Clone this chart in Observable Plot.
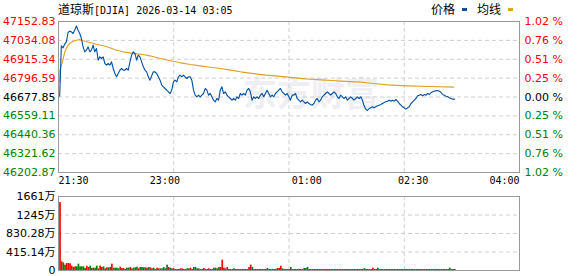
<!DOCTYPE html>
<html><head><meta charset="utf-8">
<script src="https://cdn.jsdelivr.net/npm/d3@7"></script>
<script src="https://cdn.jsdelivr.net/npm/@observablehq/plot@0.6"></script>
<style>
body{margin:0;background:#fff;}
#wrap{position:relative;width:578px;height:276px;overflow:hidden;}
#wrap svg{display:block;}
.lbl{position:absolute;top:2px;font-family:"Noto Sans CJK SC";font-size:12px;line-height:14px;color:#000;white-space:nowrap;}
.mono{font-family:"DejaVu Sans Mono";font-size:10px;}
.dash{position:absolute;top:8px;width:5px;height:3px;}
</style></head>
<body><div id="wrap"></div>
<script>
// ---------- data ----------
const titleName = "道琼斯";
const titleCode = "[DJIA] 2026-03-14 03:05";
const legendNames = ["价格", "均线"];
const prevClose = 46677.85;
const priceTicks = [47152.83, 47034.08, 46915.34, 46796.59, 46677.85, 46559.11, 46440.36, 46321.62, 46202.87];
const pctLabels = ["1.02 %", "0.76 %", "0.51 %", "0.25 %", "0.00 %", "0.25 %", "0.51 %", "0.76 %", "1.02 %"];
const timeTickMinutes = [0, 90, 210, 300, 390];
const timeTickLabels = ["21:30", "23:00", "01:00", "02:30", "04:00"];
const volTicks = [0, 415.14, 830.28, 1245, 1661];
const volTickLabels = ["0", "415.14万", "830.28万", "1245万", "1661万"];

// price samples, minutes after 21:30
const priceStartMin = 1;
const priceStepMin = 1.415;
const prices = [
46683.1,46999.7,46987.2,47010.2,47024.9,47083.6,47092.0,47087.8,47077.3,47098.3,
47125.6,47098.3,47077.3,47045.9,46993.4,46962.0,46972.5,46993.4,46962.0,46972.5,
47003.9,46962.0,46983.0,46909.6,46930.5,46920.1,46930.5,46888.6,46878.1,46888.6,
46878.1,46899.1,46857.2,46825.7,46804.7,46825.7,46846.7,46857.2,46846.7,46846.7,
46857.2,46846.7,46899.1,46941.0,46962.0,46951.5,46909.6,46941.0,46930.5,46899.1,
46867.6,46846.7,46836.2,46804.7,46783.8,
46811.0,46836.2,46836.2,46825.7,46804.7,46783.8,46752.3,46741.8,46731.3,46720.9,
46710.4,46699.9,46720.9,46773.3,46783.8,46773.3,46804.7,46815.2,46804.7,46815.2,
46804.7,46794.2,46804.7,46804.7,46783.8,46720.9,46689.4,46678.9,46689.4,46678.9,
46689.4,46699.9,46731.3,46720.9,46689.4,46699.9,46678.9,46658.0,46647.5,46668.4,
46658.0,46720.9,46741.8,46699.9,46710.4,46689.4,46678.9,46668.4,46658.0,46668.4,
46658.0,46678.9,46668.4,46699.9,46689.4,46699.9,46689.4,
46720.9,46731.3,46710.4,46658.0,46678.9,46668.4,46678.9,46668.4,46689.4,46699.9,
46678.9,46699.9,46720.9,46699.9,46678.9,46689.4,46678.9,46699.9,46710.4,46720.9,
46731.3,46710.4,46699.9,46689.4,46699.9,46678.9,46658.0,46689.4,46689.4,46699.9,
46668.4,46658.0,46647.5,46658.0,46647.5,46637.0,46647.5,46637.0,46630.7,46626.5,
46637.0,46658.0,46668.4,46647.5,46658.0,46678.9,46689.4,46699.9,46710.4,46699.9,
46689.4,46699.9,46710.4,46699.9,46678.9,46668.4,46689.4,
46678.9,46668.4,46678.9,46658.0,46668.4,46678.9,46668.4,46658.0,46668.4,46678.9,
46668.4,46678.9,46658.0,46622.3,46601.3,46592.9,46605.5,46609.7,46616.0,46609.7,
46616.0,46622.3,46626.5,46630.7,46637.0,46643.3,46647.5,46651.7,46658.0,46651.7,
46658.0,46651.7,46662.1,46651.7,46637.0,46626.5,46616.0,46609.7,46601.3,46609.7,
46616.0,46637.0,46647.5,46658.0,46668.4,46685.2,46689.4,46693.6,46685.2,46693.6,
46689.4,46699.9,46693.6,46706.2,46710.4,46714.6,46716.7,46718.8,46714.6,46706.2,
46693.6,46689.4,46683.1,46678.9,46672.6,46668.4,46664.2,46664.2
];

// average line
const avgMinutes = [1.1,1.2,2.5,4.0,5.3,6.8,8.2,9.6,12.4,15.2,18.0,20.9,26.5,32.1,37.8,43.4,49.1,54.7,60.3,66.0,71.7,77.2,86.3,94.8,103.2,111.7,120.2,128.6,137.1,145.5,154.0,166.7,175.1,183.6,192.0,200.5,209.0,217.4,225.9,234.3,238.6,255.5,266.7,278.1,295.0,314.7,334.4];
const avgPrices = [46773,46846,46878,46920,46962,46987,47004,47014.4,47029.1,47035.4,47039.6,47031.2,47020.7,47010.2,46999.7,46987.2,46972.5,46962.0,46955.7,46949.4,46945.2,46936.8,46920.1,46905.4,46892.8,46882.3,46873.9,46865.5,46857.2,46846.7,46836.2,46823.6,46815.2,46811.0,46804.7,46798.4,46792.1,46787.9,46783.8,46779.6,46777.5,46771.2,46762.8,46754.4,46748.1,46743.9,46739.7];

// volume (万), same sampling as prices; r = up (red), g = down (green)
const volumes = [
1525,195,172,120,157,157,150,97,67,82,
82,142,82,82,82,45,97,67,97,45,
52,52,97,37,97,67,82,37,60,60,
67,142,52,52,52,37,75,45,45,22,
52,52,67,37,52,60,75,37,67,67,
60,60,52,67,60,37,52,22,52,37,
37,37,67,37,120,67,52,37,37,22,
22,22,37,37,22,22,37,37,52,22,
67,67,37,37,22,22,45,22,22,37,
22,22,52,52,37,67,67,232,52,37,
67,22,22,22,37,22,22,22,22,22,
22,22,22,67,120,67,22,22,22,22,
22,22,22,22,45,22,22,22,22,22,
45,45,97,37,22,22,22,22,67,22,
22,22,22,22,22,22,45,45,67,22,
22,22,22,22,22,22,22,22,22,22,
22,22,22,22,22,22,22,22,22,22,
22,22,22,22,22,22,22,22,22,22,
22,22,45,22,22,22,22,52,22,22,
52,22,22,22,22,22,22,22,22,22,
22,22,22,22,22,22,22,22,22,22,
22,22,22,22,22,22,22,22,22,22,
22,22,22,22,22,22,22,22,22,22,
22,22,22,52,22,22,22
];
const volColors = ("rrggrrrrgr"+"ggggggrrgr"+"gggrrrggrg"+"rrggggrrrg"+"ggrggggrgg"+
  "ggrgrrgrrr"+"gggggrgrrr"+"rrrrggggrg"+"ggggrrrggr"+"ggggrgrrrg"+
  "rrrrgrrrgg"+"rrrrrgrgrr"+"rggrgrrggr"+"rrrggggrgr"+"rrrrgggggr"+
  "rrrrrggggg"+"rrrrrgrrrg"+"gggggrrrrr"+"rgggrgrrrg"+"ggrrrrrrrg"+
  "gggggrrrrr"+"rrrggggggr"+"grgrgrgggg"+"ggggggg").split("");

// ---------- build ----------
const RED = "#ff0000", GREEN = "#008000", GRID = "#cfcfcf", FRAME = "#999999";
const xDomain = [timeTickMinutes[0], timeTickMinutes[timeTickMinutes.length - 1]];
const gridMinutes = [1, 2, 3].map(k => xDomain[0] + (xDomain[1] - xDomain[0]) * k / 4);
const priceData = prices.map((p, i) => ({t: priceStartMin + i * priceStepMin, p}));
const avgData = avgMinutes.map((t, i) => ({t, p: avgPrices[i]}));
const volData = volumes.map((v, i) => ({t1: priceStartMin + i * priceStepMin, t2: priceStartMin + (i + 1) * priceStepMin, v, c: volColors[i] === "r" ? RED : GREEN}));
const timeFmt = d => timeTickLabels[timeTickMinutes.indexOf(d)];
const up = priceTicks.filter(v => v > prevClose), flat = [prevClose], down = priceTicks.filter(v => v < prevClose);
const pctFmt = d => pctLabels[priceTicks.indexOf(d)];
const numFont = "DejaVu Sans, Noto Sans CJK SC";

const leftAx = (ticks, fill) => Plot.axisY(ticks, {anchor: "left", label: null, tickSize: 0, tickPadding: 3, fill, tickFormat: d => d.toFixed(2)});
const rightAx = (ticks, fill) => Plot.axisY(ticks, {anchor: "right", label: null, tickSize: 0, tickPadding: 5, fill, tickFormat: pctFmt});
const xAx = (ticks, textAnchor) => Plot.axisX(ticks, {anchor: "bottom", label: null, tickSize: 0, tickPadding: 4, textAnchor, tickFormat: timeFmt, fontFamily: "DejaVu Sans Mono", fontSize: 10, fill: "#000"});

const pricePlot = Plot.plot({
  width: 578, height: 190,
  marginLeft: 58, marginRight: 59, marginTop: 21, marginBottom: 18,
  style: {fontFamily: numFont, fontSize: "11px", background: "#fff", color: "#000"},
  x: {domain: xDomain, axis: null},
  y: {domain: [priceTicks[priceTicks.length - 1], priceTicks[0]], axis: null},
  marks: [
    Plot.text(["东方财富"], {text: d => d, frameAnchor: "middle", dx: 22, dy: -2, fontSize: 34, fontWeight: "bold", fill: "#efeff3", fontFamily: "Noto Sans CJK SC"}),
    Plot.ruleY(priceTicks.slice(1, -1), {stroke: GRID, strokeDasharray: "4,3"}),
    Plot.ruleX(gridMinutes, {stroke: GRID, strokeDasharray: "4,3"}),
    Plot.line(avgData, {x: "t", y: "p", stroke: "#e0a020", strokeWidth: 1.1}),
    Plot.line(priceData, {x: "t", y: "p", stroke: "#004fa3", strokeWidth: 1.1}),
    Plot.frame({stroke: FRAME}),
    leftAx(up, RED), leftAx(flat, "#000"), leftAx(down, GREEN),
    rightAx(up, RED), rightAx(flat, "#000"), rightAx(down, GREEN),
    xAx([timeTickMinutes[0]], "start"),
    xAx(timeTickMinutes.slice(1, -1), "middle"),
    xAx([timeTickMinutes[timeTickMinutes.length - 1]], "end")
  ]
});

const volPlot = Plot.plot({
  width: 578, height: 86,
  marginLeft: 58, marginRight: 59, marginTop: 6, marginBottom: 6,
  style: {fontFamily: numFont, fontSize: "11px", background: "#fff", color: "#000"},
  x: {domain: xDomain, axis: null},
  y: {domain: [volTicks[0], volTicks[volTicks.length - 1]], axis: null},
  color: {type: "identity"},
  marks: [
    Plot.ruleY(volTicks.slice(1, -1), {stroke: GRID, strokeDasharray: "4,3"}),
    Plot.ruleX(gridMinutes, {stroke: GRID, strokeDasharray: "4,3"}),
    Plot.rectY(volData, {x1: "t1", x2: "t2", y: "v", fill: "c"}),
    Plot.frame({stroke: FRAME}),
    Plot.axisY(volTicks, {anchor: "left", label: null, tickSize: 0, tickPadding: 3, fill: "#000", tickFormat: d => volTickLabels[volTicks.indexOf(d)]})
  ]
});

const wrap = document.getElementById("wrap");
wrap.appendChild(pricePlot);
wrap.appendChild(volPlot);

function addLabel(html, left) {
  const el = document.createElement("div");
  el.className = "lbl"; el.style.left = left + "px"; el.innerHTML = html;
  wrap.appendChild(el); return el;
}
function addDash(left, color) {
  const el = document.createElement("div");
  el.className = "dash"; el.style.left = left + "px"; el.style.background = color;
  wrap.appendChild(el);
}
addLabel(titleName + '<span class="mono">' + titleCode + '</span>', 58);
addLabel(legendNames[0], 431);
addDash(462, "#004fa3");
addLabel(legendNames[1], 477);
addDash(508, "#e0a020");
</script></body></html>
